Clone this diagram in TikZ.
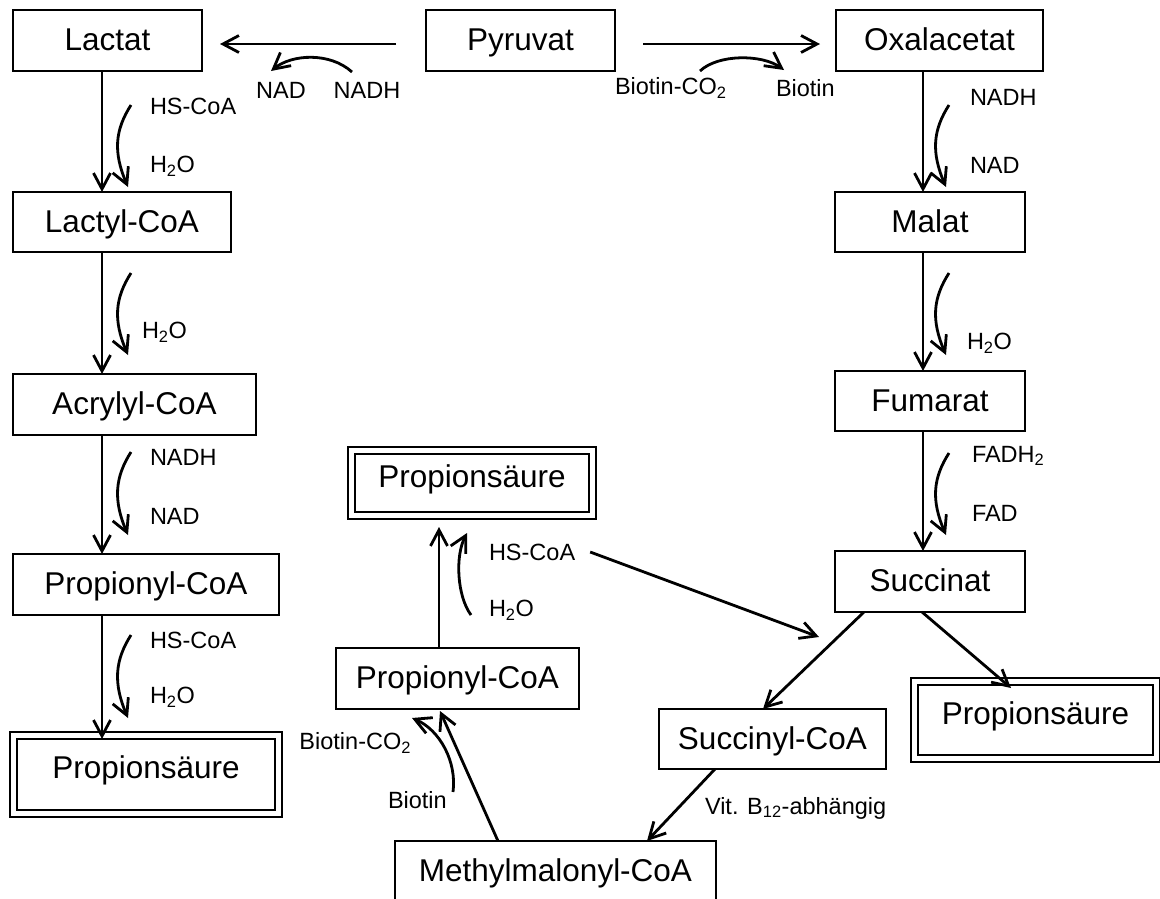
\documentclass[tikz,border=0pt]{standalone}
\usepackage{fontspec}
\setmainfont{Liberation Sans}
\usetikzlibrary{arrows.meta}
\newcommand\boxfont{\fontsize{31.5}{36}\selectfont}
\newcommand\labfont{\fontsize{23.5}{27}\selectfont}
\newcommand\sidearr[3]{\draw[arr] (#1,#2) .. controls (#1-16,#2+25) and (#1-18,#3-35) .. (#1-3,#3);}
\begin{document}
\begin{tikzpicture}[x=1pt,y=-1pt,
  box/.style={draw, line width=2.2pt, inner sep=0pt, outer sep=0pt, font=\boxfont, text height=23pt, text depth=3pt},
  dbox/.style={draw, double, line width=2.2pt, double distance=4.8pt, inner sep=0pt, outer sep=0pt, font=\boxfont, text height=23pt, text depth=15pt},
  lab/.style={inner sep=0pt, outer sep=0pt, font=\labfont},
  arr/.style={line width=2.8pt, -{Straight Barb[length=16pt,width=17pt]}}
]
\useasboundingbox (0,0) rectangle (1160,898);
% boxes
\node[box, minimum width=189pt, minimum height=61pt] (lactat) at (107.5,40.5) {Lactat};
\node[box, minimum width=189pt, minimum height=61pt] (pyruvat) at (520.5,40.5) {Pyruvat};
\node[box, minimum width=207pt, minimum height=61pt] (oxal) at (939.5,40.5) {Oxalacetat};
\node[box, minimum width=218pt, minimum height=60pt] (lactyl) at (122,222) {Lactyl-CoA};
\node[box, minimum width=243pt, minimum height=61pt] (acryl) at (134.5,404.5) {Acrylyl-CoA};
\node[box, minimum width=266pt, minimum height=61pt] (propL) at (146,584.5) {Propionyl-CoA};
\node[dbox, minimum width=265pt, minimum height=78pt] (psL) at (146,774.5) {Propionsäure};
\node[box, minimum width=190pt, minimum height=60pt] (malat) at (930,222) {Malat};
\node[box, minimum width=190pt, minimum height=60pt] (fumarat) at (930,401) {Fumarat};
\node[box, minimum width=190pt, minimum height=61pt] (succinat) at (930,581.5) {Succinat};
\node[box, minimum width=227pt, minimum height=60pt] (succinyl) at (772.5,739) {Succinyl-CoA};
\node[dbox, minimum width=242pt, minimum height=77pt] (psR) at (1035.5,720) {Propionsäure};
\node[box, minimum width=243pt, minimum height=61pt] (propM) at (457.5,678.5) {Propionyl-CoA};
\node[dbox, minimum width=241pt, minimum height=65pt] (psM) at (472,483) {Propionsäure};
\node[box, minimum width=321pt, minimum height=61pt] (methyl) at (555.5,871.5) {Methylmalonyl-CoA};
% column x positions
\coordinate (xL) at (102,0);
\coordinate (xR) at (923,0);
% top arrows
\draw[arr] ([xshift=-30pt,yshift=-3.5pt]pyruvat.west) -- ([xshift=18pt,yshift=-3.5pt]lactat.east);
\draw[arr] ([xshift=28pt,yshift=-3.5pt]pyruvat.east) -- ([xshift=-16pt,yshift=-3.5pt]oxal.west);
\draw[arr] (352,72) .. controls (330,52) and (292,54) .. (271,71);
\node[lab] (nadT) at (281,90) {NAD};
\node[lab] (nadhT) at (367,90) {NADH};
\draw[arr] (700,71) .. controls (718,54) and (762,54) .. (784,70);
\node[lab, anchor=west] (bco2T) at (615,88) {Biotin-CO\textsubscript{2}};
\node[lab, anchor=west] (biotT) at (776,88) {Biotin};
% left column
\draw[arr] (lactat.south -| xL) -- (lactyl.north -| xL);
\draw[arr] (lactyl.south -| xL) -- (acryl.north -| xL);
\draw[arr] (acryl.south -| xL) -- (propL.north -| xL);
\draw[arr, shorten >=-3.5pt] (propL.south -| xL) -- (psL.north -| xL);
\sidearr{131}{105}{187}
\sidearr{131}{273}{355}
\sidearr{131}{452}{535}
\sidearr{131}{635}{718}
\node[lab, anchor=west] (l1a) at (150,106) {HS-CoA};
\node[lab, anchor=west] (l1b) at (150,166) {H\textsubscript{2}O};
\node[lab, anchor=west] (l2a) at (142,332) {H\textsubscript{2}O};
\node[lab, anchor=west] (l3a) at (150,457) {NADH};
\node[lab, anchor=west] (l3b) at (150,516) {NAD};
\node[lab, anchor=west] (l4a) at (150,640) {HS-CoA};
\node[lab, anchor=west] (l4b) at (150,697) {H\textsubscript{2}O};
% right column
\draw[arr] (oxal.south -| xR) -- (malat.north -| xR);
\draw[arr] (malat.south -| xR) -- (fumarat.north -| xR);
\draw[arr] (fumarat.south -| xR) -- (succinat.north -| xR);
\sidearr{949}{105}{187}
\sidearr{949}{273}{355}
\sidearr{949}{453}{535}
\node[lab, anchor=west] (r1a) at (970,97) {NADH};
\node[lab, anchor=west] (r1b) at (970,165) {NAD};
\node[lab, anchor=west] (r2a) at (967,343) {H\textsubscript{2}O};
\node[lab, anchor=west] (r3a) at (972,456) {FADH\textsubscript{2}};
\node[lab, anchor=west] (r3b) at (972,513) {FAD};
% lower part
\draw[arr] ([xshift=-66pt]succinat.south) -- ([xshift=-9.5pt]succinyl.north);
\draw[arr] ([xshift=-8pt]succinat.south) -- ([xshift=-24.5pt,yshift=-6.5pt]psR.north);
\node[lab, anchor=west] (hsM) at (489,552) {HS-CoA};
\node[lab, anchor=west] (h2oM) at (489,610) {H\textsubscript{2}O};
\coordinate (hsend) at (819,637);
\draw[arr] ([xshift=15pt]hsM.east) -- (hsend);
\draw[arr] ([xshift=-18.5pt]propM.north) -- ([xshift=-33pt,yshift=-11.5pt]psM.south);
\draw[arr] (471,615) .. controls (457,596) and (455,556) .. (467,533);
\draw[arr] ([xshift=-57.5pt]succinyl.south) -- ([xshift=91.5pt]methyl.north);
\node[lab, anchor=west] (vit) at (705,808) {Vit. B\textsubscript{12}-abhängig};
\draw[arr] ([xshift=-57.5pt]methyl.north) -- ([xshift=-17.5pt,yshift=-2pt]propM.south);
\draw[arr] (453,792) .. controls (457,762) and (440,730) .. (412,718);
\node[lab, anchor=east] (bco2M) at (411,743) {Biotin-CO\textsubscript{2}};
\node[lab, anchor=west] (biotM) at (388,800) {Biotin};
\end{tikzpicture}
\end{document}
